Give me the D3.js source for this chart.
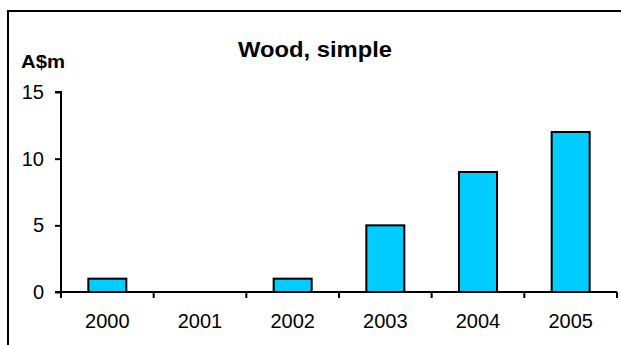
<!DOCTYPE html>
<html>
<head>
<meta charset="utf-8">
<script src="https://cdn.jsdelivr.net/npm/d3@7"></script>
<style>
html,body{margin:0;padding:0;background:#fff;}
svg{display:block;}
text{font-family:"Liberation Sans",Arial,sans-serif;fill:#000;}
</style>
</head>
<body>
<svg id="chart" width="621" height="345"></svg>
<script>
const categories = ["2000","2001","2002","2003","2004","2005"];
const values = [1, 0, 1, 5, 9, 12];
const yTicks = [0, 5, 10, 15];
const title = "Wood, simple";
const yUnit = "A$m";

const svg = d3.select("#chart");
const W = 621, H = 345;
const m = {left: 61, right: 4, top: 92, bottom: 53};

// outer frame (cut off at right and bottom)
svg.append("path")
  .attr("d", `M8,${H+2}V11H${W+2}`)
  .attr("fill","none").attr("stroke","#000").attr("stroke-width",2);

const x = d3.scaleBand().domain(categories).range([m.left, 617]).paddingInner(0.59).paddingOuter(0.295);
const xb = d3.scaleBand().domain(categories).range([m.left, 617]);
const y = d3.scaleLinear().domain([0,15]).range([292, 92]);

// bars
svg.selectAll("rect.bar").data(values.map((v,i)=>({v,c:categories[i]})).filter(d=>d.v>0))
  .enter().append("rect").attr("class","bar")
  .attr("x", d=>x(d.c)).attr("width", x.bandwidth())
  .attr("y", d=>y(d.v)).attr("height", d=>y(0)-y(d.v))
  .attr("fill","#00CCFF").attr("stroke","#000").attr("stroke-width",2);

// y axis
const yAxis = d3.axisLeft(y).tickValues(yTicks).tickSize(6).tickPadding(11);
const gy = svg.append("g").attr("transform",`translate(${m.left},0)`).call(yAxis);
gy.select(".domain").attr("d", `M-6,${y(15)}H0V${y(0)}`).attr("stroke","#000").attr("stroke-width",2);
gy.selectAll(".tick line").attr("stroke","#000").attr("stroke-width",2);
gy.selectAll(".tick text").attr("font-size",20).attr("font-family","Liberation Sans, Arial, sans-serif").attr("fill","#000");

// x axis line and ticks at category boundaries
const gx = svg.append("g");
gx.append("line").attr("x1", m.left-6).attr("x2", 617).attr("y1", y(0)).attr("y2", y(0))
  .attr("stroke","#000").attr("stroke-width",2);
const bounds = categories.map(c=>xb(c)).concat([xb(categories[categories.length-1])+xb.bandwidth()]);
gx.selectAll("line.t").data(bounds).enter().append("line").attr("class","t")
  .attr("x1",d=>d).attr("x2",d=>d).attr("y1",y(0)).attr("y2",y(0)+6)
  .attr("stroke","#000").attr("stroke-width",2);
gx.selectAll("text").data(categories).enter().append("text")
  .attr("x", c=>xb(c)+xb.bandwidth()/2).attr("y", 328)
  .attr("text-anchor","middle").attr("font-size",20).text(d=>d);

// title and unit
svg.append("text").attr("x",238).attr("y",57)
  .attr("font-size",22).attr("font-weight","bold")
  .attr("textLength",154).attr("lengthAdjust","spacingAndGlyphs").text(title);
svg.append("text").attr("x",21).attr("y",68)
  .attr("font-size",18).attr("font-weight","bold")
  .attr("textLength",44).attr("lengthAdjust","spacingAndGlyphs").text(yUnit);
</script>
</body>
</html>
